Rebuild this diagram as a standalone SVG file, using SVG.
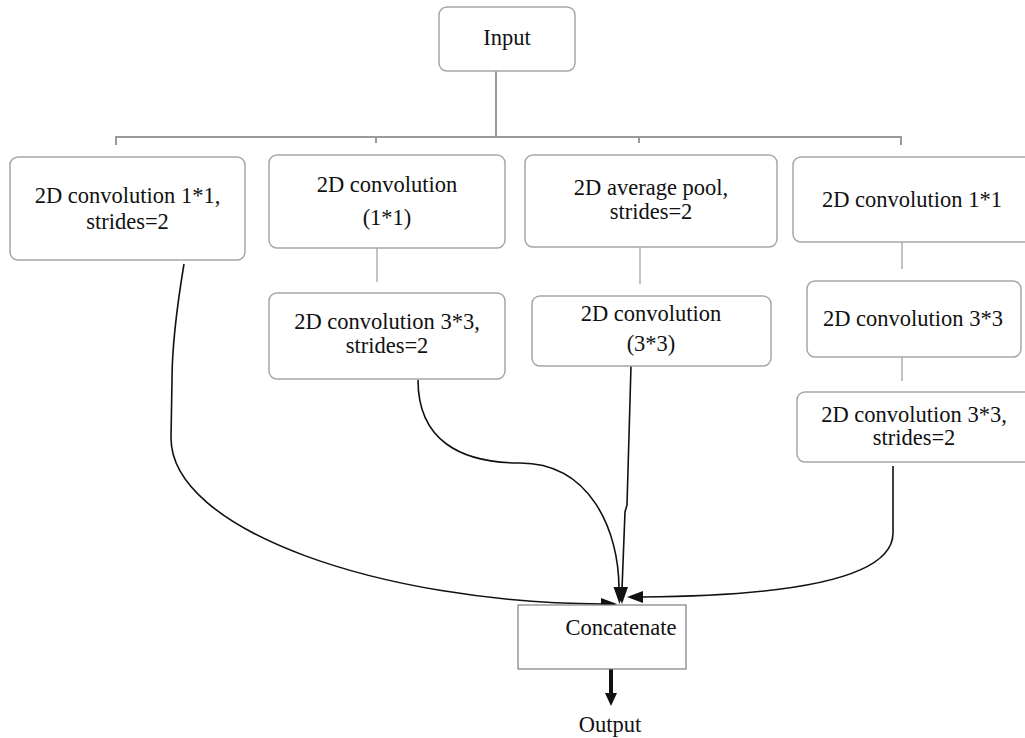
<svg xmlns="http://www.w3.org/2000/svg" width="1025" height="738" viewBox="0 0 1025 738">
<defs>
<style>
.box{fill:#fff;stroke:#a6a6a6;stroke-width:1.5}
.sq{fill:#fff;stroke:#7f7f7f;stroke-width:1.2}
.t{font-family:'Liberation Serif','Times New Roman',serif;font-size:22.5px;fill:#111;text-anchor:middle}
.g{fill:none;stroke:#9a9a9a;stroke-width:2}
.gl{fill:none;stroke:#b0b0b0;stroke-width:1.5}
.k{fill:none;stroke:#111;stroke-width:1.6}
.ah{fill:#111;stroke:none}
</style>
</defs>
<rect width="1025" height="738" fill="#fff"/>
<g id="connectors">
<path class="g" d="M496,62 V136 M116,145 V137 H901 V145 M376,143 V137 M639,143 V137"/>
<path class="gl" d="M377,238 V282 M640,238 V284 M902,233 V269 M902,347 V381"/>
<path class="k" d="M184,264 C178,300 172,340 172,380 L171,438 C171,530 380,603 603,604"/>
<path class="k" d="M418,380 C418,440 460,463 520,463 C590,463 619,530 619,589"/>
<path class="k" d="M631,366 L627,505 L625,512 L622,589"/>
<path class="k" d="M893,466 L893,533 C893,585 760,596 642,597"/>
<polygon class="ah" points="617,604 601,598 601,610"/>
<polygon class="ah" points="619.5,604 613.5,587 625.5,587"/>
<polygon class="ah" points="622,604 616,587 628,587"/>
<polygon class="ah" points="627,597 643,591 643,603"/>
<path fill="none" stroke="#111" stroke-width="4" d="M611,669 V694"/>
<polygon class="ah" points="611,706 605,693 617,693"/>
</g>
<g id="input"><rect class="box" x="439" y="7" width="136" height="64" rx="8"/><text class="t" x="507" y="45">Input</text></g>
<g id="b1"><rect class="box" x="10" y="157" width="235" height="103" rx="8"/><text class="t" x="127.5" y="203">2D convolution 1*1,</text><text class="t" x="127.5" y="229">strides=2</text></g>
<g id="b2"><rect class="box" x="269" y="155" width="236" height="93" rx="8"/><text class="t" x="387" y="192">2D convolution</text><text class="t" x="387" y="225">(1*1)</text></g>
<g id="b2b"><rect class="box" x="269" y="293" width="236" height="86" rx="8"/><text class="t" x="387" y="329">2D convolution 3*3,</text><text class="t" x="387" y="353">strides=2</text></g>
<g id="b3"><rect class="box" x="525" y="155" width="252" height="92" rx="8"/><text class="t" x="651" y="195">2D average pool,</text><text class="t" x="651" y="219">strides=2</text></g>
<g id="b3b"><rect class="box" x="532" y="296" width="239" height="70" rx="8"/><text class="t" x="651" y="321">2D convolution</text><text class="t" x="651" y="351">(3*3)</text></g>
<g id="b4"><rect class="box" x="793" y="157" width="240" height="85" rx="8"/><text class="t" x="912" y="207">2D convolution 1*1</text></g>
<g id="b4b"><rect class="box" x="807" y="281" width="214" height="76" rx="8"/><text class="t" x="913" y="326">2D convolution 3*3</text></g>
<g id="b4c"><rect class="box" x="797" y="392" width="236" height="70" rx="8"/><text class="t" x="914" y="422">2D convolution 3*3,</text><text class="t" x="914" y="445">strides=2</text></g>
<g id="concat"><rect class="sq" x="518" y="605" width="168" height="64"/><text class="t" x="621" y="635">Concatenate</text></g>
<g id="output"><text class="t" x="610" y="732">Output</text></g>
</svg>
